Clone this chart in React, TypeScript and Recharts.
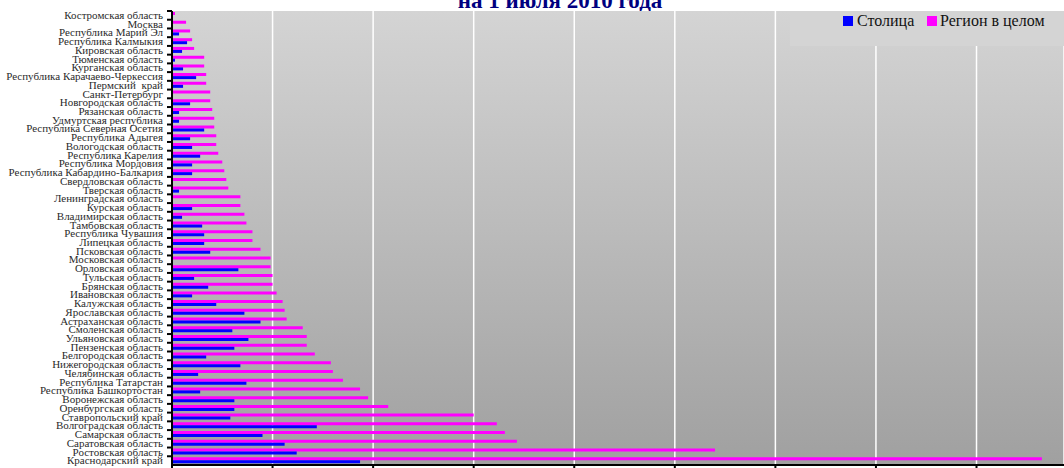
import { BarChart, Bar, XAxis, YAxis, CartesianGrid } from 'recharts';

// Регионы сверху вниз
const regions = [
  'Костромская область', 'Москва', 'Республика Марий Эл', 'Республика Калмыкия',
  'Кировская область', 'Тюменская область', 'Курганская область',
  'Республика Карачаево-Черкессия', 'Пермский  край', 'Санкт-Петербург',
  'Новгородская область', 'Рязанская область', 'Удмуртская республика',
  'Республика Северная Осетия', 'Республика Адыгея', 'Вологодская область',
  'Республика Карелия', 'Республика Мордовия', 'Республика Кабардино-Балкария',
  'Свердловская область', 'Тверская область', 'Ленинградская область',
  'Курская область', 'Владимирская область', 'Тамбовская область',
  'Республика Чувашия', 'Липецкая область', 'Псковская область',
  'Московская область', 'Орловская область', 'Тульская область',
  'Брянская область', 'Ивановская область', 'Калужская область',
  'Ярославская область', 'Астраханская область', 'Смоленская область',
  'Ульяновская область', 'Пензенская область', 'Белгородская область',
  'Нижегородская область', 'Челябинская область', 'Республика Татарстан',
  'Республика Башкортостан', 'Воронежская область', 'Оренбургская область',
  'Ставропольский край', 'Волгоградская область', 'Самарская область',
  'Саратовская область', 'Ростовская область', 'Краснодарский край',
];

const capital = [
  0, 0, 0.7, 1.5, 1.0, 0.3, 1.1, 2.4, 1.1, 0,
  1.8, 0.7, 0.7, 3.2, 1.8, 2.0, 2.8, 2.0, 2.0, 0,
  0.7, 0, 2.0, 1.0, 3.0, 3.2, 3.2, 3.8, 0, 6.6,
  2.2, 3.6, 2.0, 4.4, 7.2, 8.8, 6.0, 7.6, 6.2, 3.4,
  6.8, 2.6, 7.4, 2.8, 6.2, 6.2, 5.8, 14.4, 9.0, 11.2,
  12.4, 18.7,
];

const regionTotal = [
  0.3, 1.4, 1.8, 2.0, 2.2, 3.2, 3.2, 3.4, 3.4, 3.8,
  3.8, 4.0, 4.2, 4.2, 4.4, 4.4, 4.6, 5.0, 5.2, 5.4,
  5.6, 6.8, 6.8, 7.2, 7.4, 8.0, 8.0, 8.8, 9.8, 9.8,
  10.0, 10.0, 10.4, 11.0, 11.2, 11.4, 13.0, 13.4, 13.4, 14.2,
  15.8, 16.0, 17.0, 18.7, 19.5, 21.5, 30.0, 32.3, 33.1, 34.3,
  54.0, 86.5,
];

const xTicks = [0, 10, 20, 30, 40, 50, 60, 70, 80];

const data = regions.map((name, i) => ({
  name,
  capital: capital[i],
  region: regionTotal[i],
}));

const PLOT_TOP = 11;
const PLOT_BOTTOM = 465;
const AXIS_X = 172;
const BAND = (PLOT_BOTTOM - PLOT_TOP) / regions.length;

const RegionTick = (props: any) => {
  const { y, payload } = props;
  return (
    <g>
      <line x1={AXIS_X - 5} x2={AXIS_X} y1={y - BAND / 2} y2={y - BAND / 2} stroke="#000" strokeWidth={2} />
      <text
        x={AXIS_X - 9}
        y={y}
        dy="0.33em"
        textAnchor="end"
        fontFamily="'Liberation Serif', serif"
        fontSize={11}
        fill="#2a2a2a"
        style={{ whiteSpace: 'pre' }}
      >
        {payload.value}
      </text>
    </g>
  );
};

export default function App() {
  return (
    <div style={{ position: 'fixed', left: 0, top: 0, width: 1064, height: 468, overflow: 'hidden', background: '#fff' }}>
      <div
        style={{
          position: 'absolute',
          top: -11.5,
          left: 0,
          width: 1120,
          textAlign: 'center',
          fontFamily: "'Liberation Serif', serif",
          fontWeight: 'bold',
          fontSize: 23,
          lineHeight: '23px',
          color: '#000080',
        }}
      >
        на 1 июля 2010 года
      </div>
      <BarChart
        width={1064}
        height={520}
        data={data}
        layout="vertical"
        margin={{ top: PLOT_TOP, right: 0, bottom: 520 - PLOT_BOTTOM - 40, left: 0 }}
        barSize={3}
        barGap={0}
      >
        <defs>
          <linearGradient id="bgGrad" x1="0" y1="0" x2="0" y2="1">
            <stop offset="0%" stopColor="#d4d4d4" />
            <stop offset="100%" stopColor="#a0a0a0" />
          </linearGradient>
        </defs>
        <CartesianGrid horizontal={false} stroke="#ffffff" strokeWidth={1.5} fill="url(#bgGrad)" fillOpacity={1} />
        <XAxis
          type="number"
          domain={[0, 88.7]}
          ticks={xTicks}
          allowDataOverflow
          height={40}
          axisLine={{ stroke: '#000', strokeWidth: 2 }}
          tickLine={{ stroke: '#000', strokeWidth: 2 }}
          tickSize={6}
          tickMargin={14}
          tick={{ fontSize: 11, fill: '#222', fontFamily: "'Liberation Serif', serif" }}
        />
        <YAxis
          type="category"
          dataKey="name"
          width={AXIS_X}
          interval={0}
          tickLine={false}
          axisLine={{ stroke: '#000', strokeWidth: 2 }}
          tick={<RegionTick />}
        />
        <Bar dataKey="region" name="Регион в целом" fill="#ff00ff" isAnimationActive={false} />
        <Bar dataKey="capital" name="Столица" fill="#0000ff" isAnimationActive={false} />
      </BarChart>
      <div
        style={{
          position: 'absolute',
          top: 11,
          left: 790,
          width: 274,
          height: 35,
          background: '#d4d4d4',
          fontFamily: "'Liberation Serif', serif",
          fontSize: 16,
          color: '#111',
        }}
      >
        <div style={{ position: 'absolute', left: 53, top: 5, width: 10, height: 10, background: '#0000ff' }} />
        <div style={{ position: 'absolute', left: 67, top: 1, lineHeight: '17px' }}>Столица</div>
        <div style={{ position: 'absolute', left: 137, top: 5, width: 10, height: 10, background: '#ff00ff' }} />
        <div style={{ position: 'absolute', left: 150, top: 1, lineHeight: '17px' }}>Регион в целом</div>
      </div>
    </div>
  );
}
